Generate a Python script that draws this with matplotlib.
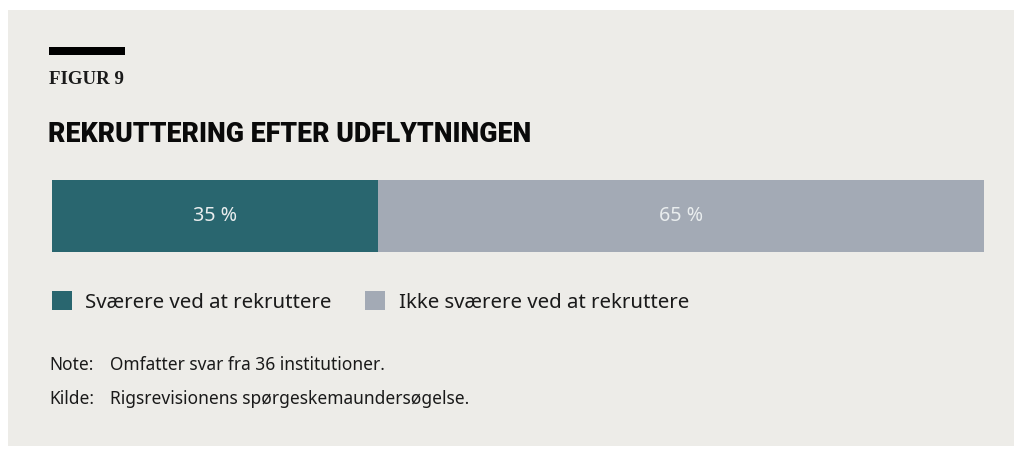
import matplotlib
matplotlib.use("Agg")
import matplotlib.pyplot as plt
from matplotlib.patches import Rectangle

# ---- data ----
categories = ["Sværere ved at rekruttere", "Ikke sværere ved at rekruttere"]
values = [35, 65]
colors = ["#29666F", "#A3AAB5"]
value_labels = ["35 %", "65 %"]
fig_label = "FIGUR 9"
title = "REKRUTTERING EFTER UDFLYTNINGEN"
note_keys = ["Note:", "Kilde:"]
note_texts = ["Omfatter svar fra 36 institutioner.", "Rigsrevisionens spørgeskemaundersøgelse."]

W, H = 1014, 450
BG = "#EDECE8"

def fx(x):
    return x / W

def fy(y):
    return 1 - y / H

fig = plt.figure(figsize=(W / 100, H / 100), dpi=100)
fig.patch.set_facecolor("white")

# panel background
fig.patches.append(Rectangle((fx(8), fy(446)), fx(1014) - fx(8), fy(10) - fy(446),
                             transform=fig.transFigure, facecolor=BG, edgecolor="none", zorder=-10))
# black rule
fig.patches.append(Rectangle((fx(49), fy(55)), fx(125) - fx(49), fy(47) - fy(55),
                             transform=fig.transFigure, facecolor="black", edgecolor="none", zorder=1))

fig.text(fx(49), fy(83.5), fig_label, family="Liberation Serif", weight="bold",
         fontsize=13.6, color="#1a1a1a", va="baseline", ha="left")
fig.text(fx(48), fy(142.5), title, family="Roboto", weight="black",
         fontsize=19.2, color="#0a0a0a", va="baseline", ha="left")

# bar
ax = fig.add_axes([fx(52), fy(252), fx(984) - fx(52), fy(180) - fy(252)])
ax.set_zorder(5)
ax.set_facecolor("none")
left = 0
handles = []
for cat, v, c, lab in zip(categories, values, colors, value_labels):
    b = ax.barh(0, v, left=left, height=1, color=c, label=cat)
    handles.append(b)
    ax.text(left + v / 2, 0, lab, ha="center", va="center", color="#E9EDEE",
            family="Noto Sans", fontsize=14.2, fontweight="light")
    left += v
ax.set_xlim(0, sum(values))
ax.set_ylim(-0.5, 0.5)
ax.axis("off")

# legend
fs_leg = 14.7
leg = fig.legend(handles=handles, labels=categories, loc="center left",
                 bbox_to_anchor=(fx(52), fy(302)), ncol=2, frameon=False,
                 prop={"family": "Noto Sans", "size": fs_leg},
                 handlelength=14.4 / fs_leg, handleheight=14.4 / fs_leg,
                 handletextpad=9.4 / fs_leg, columnspacing=24.5 / fs_leg,
                 borderpad=0, borderaxespad=0)
for t in leg.get_texts():
    t.set_color("#1a1a1a")

# notes
for i, (k, t) in enumerate(zip(note_keys, note_texts)):
    yb = [370.5, 403.5][i]
    fig.text(fx(49), fy(yb), k, family="Noto Sans", fontsize=12.5, color="#1a1a1a",
             va="baseline", ha="left")
    fig.text(fx(110), fy(yb), t, family="Noto Sans", fontsize=12.5, color="#1a1a1a",
             va="baseline", ha="left")

fig.savefig("out.png", dpi=100, facecolor=fig.get_facecolor())
